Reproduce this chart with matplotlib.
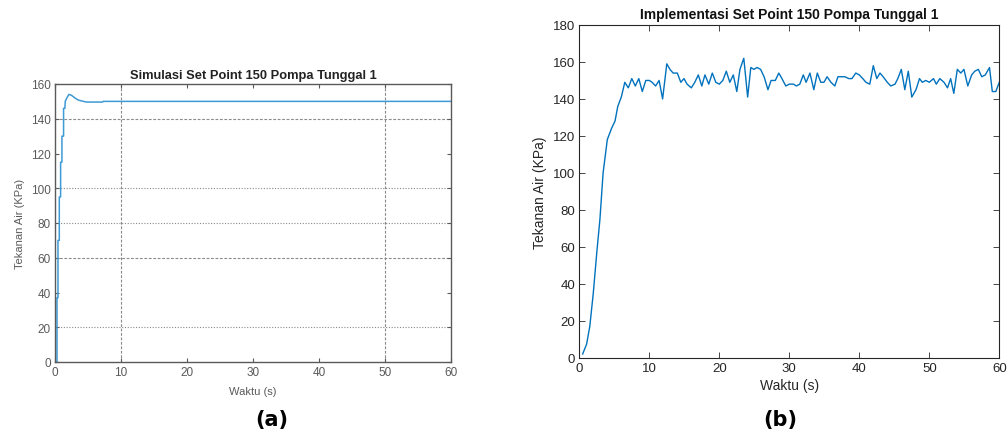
import matplotlib
matplotlib.use("Agg")
import matplotlib.pyplot as plt
import numpy as np

# ---- Panel (a): simulation ----
t_a = [0, 0.3, 0.3, 0.45, 0.45, 0.65, 0.65, 0.85, 0.85, 1.05, 1.05, 1.3, 1.3, 1.5,
       1.55, 1.8, 2.1, 2.5, 3.0, 3.5, 4.3, 4.8, 6.8, 7.2, 7.3, 60]
p_a = [0, 0, 37, 37, 70, 70, 95, 95, 115, 115, 130, 130, 146, 146,
       150, 152, 154, 153.5, 152, 150.8, 150, 149.6, 149.6, 149.6, 150, 150]
hgrid_dotted = [20, 80, 100]
hgrid_dashed = [60, 140]
vgrid_dashed = [10, 50]

# ---- Panel (b): implementation ----
t_b = [0.48, 1.05, 1.5, 2.0, 2.5, 2.95, 3.4, 4.0, 4.6, 5.1, 5.5, 6.0, 6.5, 7.0, 7.5, 8.0,
       8.5, 9.0, 9.5, 10.0, 10.4, 10.9, 11.4, 11.9, 12.5, 12.95, 13.4, 14.0, 14.5, 14.95,
       15.4, 16.0, 16.5, 17.0, 17.5, 17.95, 18.5, 19.0, 19.5, 20.0, 20.5, 21.0, 21.5, 22.0,
       22.5, 22.95, 23.5, 24.05, 24.5, 24.95, 25.4, 25.9, 26.4, 26.95, 27.4, 28.0, 28.5,
       28.95, 29.5, 30.0, 30.6, 31.0, 31.5, 32.0, 32.4, 32.95, 33.5, 34.0, 34.5, 34.95,
       35.4, 35.95, 36.5, 36.95, 37.5, 37.95, 38.5, 38.95, 39.5, 40.0, 40.5, 40.95, 41.5,
       42.0, 42.5, 42.95, 43.4, 44.0, 44.5, 45.1, 45.5, 46.0, 46.5, 47.0, 47.5, 48.1, 48.6,
       49.0, 49.5, 50.0, 50.6, 51.0, 51.5, 52.1, 52.6, 53.05, 53.5, 54.0, 54.5, 54.95, 55.5,
       56.05, 56.5, 57.0, 57.5, 58.0, 58.6, 59.0, 59.5, 60.0]
p_b = [2, 7.4, 17, 35, 57, 75, 100, 118, 124, 128, 136, 141, 149, 146, 151, 147,
       151, 144, 150, 150, 149, 147, 150, 140, 159, 156, 154, 154, 149, 151,
       148, 146, 149, 153, 147, 153, 148, 154, 149, 148, 150, 155, 149, 153,
       144, 156, 162, 141, 157, 156, 157, 156, 152, 145, 150, 150, 154,
       151, 147, 148, 148, 147, 148, 153, 149, 154, 145, 154, 149, 149,
       152, 149, 147, 152, 152, 152, 151, 151, 154, 153, 151, 149, 148,
       158, 151, 154, 152, 149, 147, 148, 151, 156, 145, 155, 141, 145, 151,
       149, 150, 149, 151, 148, 151, 149, 146, 151, 143, 156, 154, 156, 147,
       153, 155, 156, 152, 153, 157, 144, 144, 149]

plt.rcParams['font.family'] = ['Liberation Sans', 'DejaVu Sans']
fig = plt.figure(figsize=(10.08, 4.35), dpi=100)

# ---------- Panel (a) ----------
gray_a = '#5a5a5a'
axa = fig.add_axes([55/1008, 1-363/435, (451-55)/1008, (363-85)/435])
axa.plot(t_a, p_a, color='#3d9ad6', lw=1.1)
for v in hgrid_dotted:
    axa.axhline(v, color='#8a8a8a', lw=0.8, ls=(0, (1, 1.5)), zorder=0)
for v in hgrid_dashed:
    axa.axhline(v, color='#8a8a8a', lw=0.8, ls=(0, (2.5, 1.5)), zorder=0)
for v in vgrid_dashed:
    axa.axvline(v, color='#8a8a8a', lw=0.8, ls=(0, (2.5, 1.5)), zorder=0)
axa.set_xlim(0, 60)
axa.set_ylim(0, 160)
axa.set_xticks(np.arange(0, 61, 10))
axa.set_yticks(np.arange(0, 161, 20))
axa.tick_params(direction='in', length=3, width=0.8, colors=gray_a, labelsize=8.5,
                top=True, right=True, pad=3)
for s in axa.spines.values():
    s.set_color(gray_a)
    s.set_linewidth(1.0)
axa.set_title('Simulasi Set Point 150 Pompa Tunggal 1', fontsize=9.3, fontweight='bold',
              color='#222222', pad=4)
axa.set_xlabel('Waktu (s)', fontsize=8, color=gray_a, labelpad=6)
axa.set_ylabel('Tekanan Air (KPa)', fontsize=8, color=gray_a, labelpad=4)

# ---------- Panel (b) ----------
gray_b = '#262626'
axb = fig.add_axes([579.3/1008, 1-358.7/435, (999.3-579.3)/1008, (358.7-26)/435])
axb.plot(t_b, p_b, color='#0072BD', lw=1.0)
axb.set_xlim(0, 60)
axb.set_ylim(0, 180)
axb.set_xticks(np.arange(0, 61, 10))
axb.set_yticks(np.arange(0, 181, 20))
axb.tick_params(direction='in', length=4, width=0.6, colors=gray_b, labelsize=9.5,
                top=True, right=True, pad=3)
for s in axb.spines.values():
    s.set_color(gray_b)
    s.set_linewidth(0.8)
axb.set_title('Implementasi Set Point 150 Pompa Tunggal 1', fontsize=10, fontweight='bold',
              color='#111111', pad=5)
axb.set_xlabel('Waktu (s)', fontsize=10, color=gray_b, labelpad=3)
axb.set_ylabel('Tekanan Air (KPa)', fontsize=10, color=gray_b, labelpad=4)

# ---------- Panel labels ----------
fig.text(272/1008, 1-420/435, '(a)', fontsize=15, fontweight='bold',
         family='DejaVu Sans', ha='center', va='center')
fig.text(780/1008, 1-420/435, '(b)', fontsize=15, fontweight='bold',
         family='DejaVu Sans', ha='center', va='center')

fig.savefig('out.png', dpi=100)
